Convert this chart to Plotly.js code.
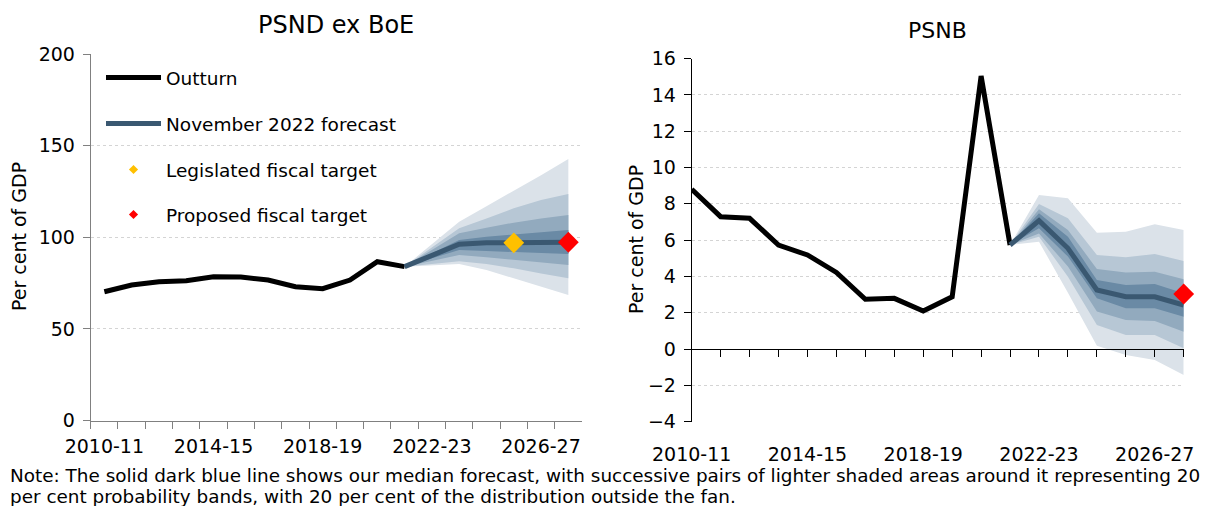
<!DOCTYPE html>
<html>
<head>
<meta charset="utf-8">
<script src="https://cdn.plot.ly/plotly-3.0.1.min.js"></script>
<style>html,body{margin:0;padding:0;background:#fff;}#chart{width:1211px;height:506px;}</style>
</head>
<body>
<div id="chart"></div>
<script>
// ---------- data ----------
const categories = ['2010-11','2011-12','2012-13','2013-14','2014-15','2015-16','2016-17','2017-18','2018-19','2019-20','2020-21','2021-22','2022-23','2023-24','2024-25','2025-26','2026-27','2027-28'];
const tickLabels = ['2010-11','','','','2014-15','','','','2018-19','','','','2022-23','','','','2026-27',''];

// PSND ex BoE (per cent of GDP)
const psndOutturn  = [70.3,74.0,75.8,76.3,78.5,78.3,76.7,73.0,72.0,76.7,86.7,84.0,null,null,null,null,null,null];
const psndMedian   = [null,null,null,null,null,null,null,null,null,null,null,84.0,90.1,96.2,97.0,97.3,97.3,97.3];
const psndLo1 = [null,null,null,null,null,null,null,null,null,null,null,84.0,84.7,85.4,82.2,77.6,73.0,68.5];
const psndHi1 = [null,null,null,null,null,null,null,null,null,null,null,84.0,96.2,108.5,117.0,125.4,133.8,142.7];
const psndLo2 = [null,null,null,null,null,null,null,null,null,null,null,84.0,85.5,87.0,85.4,83.1,80.3,77.6];
const psndHi2 = [null,null,null,null,null,null,null,null,null,null,null,84.0,94.4,104.9,110.3,115.8,120.3,123.6];
const psndLo3 = [null,null,null,null,null,null,null,null,null,null,null,84.0,87.1,90.3,89.1,87.6,86.3,84.9];
const psndHi3 = [null,null,null,null,null,null,null,null,null,null,null,84.0,93.1,102.2,105.2,108.0,110.3,112.2];
const psndLo4 = [null,null,null,null,null,null,null,null,null,null,null,84.0,88.5,93.1,92.5,92.0,91.4,90.9];
const psndHi4 = [null,null,null,null,null,null,null,null,null,null,null,84.0,91.2,98.5,100.3,101.6,102.9,104.0];
const psndLegislatedCat = ['2025-26'];
const psndLegislatedVal = [97.0];
const psndProposedCat = ['2027-28'];
const psndProposedVal = [97.3];

// PSNB (per cent of GDP)
const psnbOutturn = [8.80,7.29,7.20,5.73,5.18,4.22,2.74,2.79,2.09,2.88,15.04,5.73,null,null,null,null,null,null];
const psnbMedian  = [null,null,null,null,null,null,null,null,null,null,null,5.73,7.07,5.55,3.25,2.88,2.88,2.42];
const psnbLo1 = [null,null,null,null,null,null,null,null,null,null,null,5.73,5.91,3.10,0.18,-0.33,-0.61,-1.43];
const psnbHi1 = [null,null,null,null,null,null,null,null,null,null,null,5.73,8.48,8.30,6.41,6.46,6.87,6.56];
const psnbLo2 = [null,null,null,null,null,null,null,null,null,null,null,5.73,6.19,3.98,1.32,0.77,0.77,0.04];
const psnbHi2 = [null,null,null,null,null,null,null,null,null,null,null,5.73,7.99,7.20,5.18,5.05,5.23,4.85];
const psnbLo3 = [null,null,null,null,null,null,null,null,null,null,null,5.73,6.37,4.54,2.06,1.60,1.54,0.95];
const psnbHi3 = [null,null,null,null,null,null,null,null,null,null,null,5.73,7.70,6.56,4.41,4.22,4.26,3.84];
const psnbLo4 = [null,null,null,null,null,null,null,null,null,null,null,5.73,6.65,5.09,2.79,2.24,2.24,1.78];
const psnbHi4 = [null,null,null,null,null,null,null,null,null,null,null,5.73,7.48,6.19,3.80,3.53,3.58,3.07];
const psnbProposedCat = ['2027-28'];
const psnbProposedVal = [3.03];

// ---------- styling ----------
const FONT = '"DejaVu Sans", sans-serif';
const fanColors = ['#dbe2e9','#b7c7d5','#92aabe','#6a8aa5'];
const medianColor = '#3a5871';
const gridColor = '#d4d4d4';

function fanTraces(lows, highs, xa, ya) {
  const t = [];
  for (let i = 0; i < lows.length; i++) {
    t.push({x: categories, y: lows[i], xaxis: xa, yaxis: ya, type: 'scatter', mode: 'lines',
      line: {width: 0, color: 'rgba(0,0,0,0)'}, hoverinfo: 'skip', showlegend: false});
    t.push({x: categories, y: highs[i], xaxis: xa, yaxis: ya, type: 'scatter', mode: 'lines',
      line: {width: 0, color: 'rgba(0,0,0,0)'}, fill: 'tonexty', fillcolor: fanColors[i],
      hoverinfo: 'skip', showlegend: false});
  }
  return t;
}

const data = [].concat(
  fanTraces([psndLo1, psndLo2, psndLo3, psndLo4], [psndHi1, psndHi2, psndHi3, psndHi4], 'x', 'y'),
  fanTraces([psnbLo1, psnbLo2, psnbLo3, psnbLo4], [psnbHi1, psnbHi2, psnbHi3, psnbHi4], 'x2', 'y2'),
  [
    {x: categories, y: psndOutturn, xaxis: 'x', yaxis: 'y', type: 'scatter', mode: 'lines',
      line: {color: '#000', width: 5}, name: 'Outturn', legend: 'legend', showlegend: true},
    {x: categories, y: psndMedian, xaxis: 'x', yaxis: 'y', type: 'scatter', mode: 'lines',
      line: {color: medianColor, width: 5}, name: 'November 2022 forecast', legend: 'legend2', showlegend: true},
    // small diamonds (hidden under the large ones) that carry the legend entries
    {x: psndLegislatedCat, y: psndLegislatedVal, xaxis: 'x', yaxis: 'y', type: 'scatter', mode: 'markers',
      marker: {symbol: 'diamond', color: '#ffc000', size: 7}, name: 'Legislated fiscal target', legend: 'legend3', showlegend: true},
    {x: psndProposedCat, y: psndProposedVal, xaxis: 'x', yaxis: 'y', type: 'scatter', mode: 'markers',
      marker: {symbol: 'diamond', color: '#ff0000', size: 7}, name: 'Proposed fiscal target', legend: 'legend4', showlegend: true},
    {x: psndLegislatedCat, y: psndLegislatedVal, xaxis: 'x', yaxis: 'y', type: 'scatter', mode: 'markers',
      marker: {symbol: 'diamond', color: '#ffc000', size: 16}, showlegend: false, cliponaxis: false},
    {x: psndProposedCat, y: psndProposedVal, xaxis: 'x', yaxis: 'y', type: 'scatter', mode: 'markers',
      marker: {symbol: 'diamond', color: '#ff0000', size: 16}, showlegend: false, cliponaxis: false},

    {x: categories, y: psnbOutturn, xaxis: 'x2', yaxis: 'y2', type: 'scatter', mode: 'lines',
      line: {color: '#000', width: 5}, showlegend: false, cliponaxis: false},
    {x: categories, y: psnbMedian, xaxis: 'x2', yaxis: 'y2', type: 'scatter', mode: 'lines',
      line: {color: medianColor, width: 5}, showlegend: false, cliponaxis: false},
    {x: psnbProposedCat, y: psnbProposedVal, xaxis: 'x2', yaxis: 'y2', type: 'scatter', mode: 'markers',
      marker: {symbol: 'diamond', color: '#ff0000', size: 16}, showlegend: false, cliponaxis: false},
    // carrier for the zero-line axis of the PSNB panel
    {x: categories, y: psnbOutturn, xaxis: 'x3', yaxis: 'y2', type: 'scatter', mode: 'lines',
      line: {color: 'rgba(0,0,0,0)', width: 0}, hoverinfo: 'skip', showlegend: false}
  ]
);

const legendBase = {xanchor: 'left', yanchor: 'middle', bgcolor: 'rgba(0,0,0,0)', borderwidth: 0,
  font: {family: FONT, size: 18.5, color: '#000'}, itemwidth: 55, tracegroupgap: 0};
const legX = 101 / 1211;

const layout = {
  width: 1211, height: 506,
  margin: {l: 0, r: 0, t: 0, b: 0},
  paper_bgcolor: '#fff', plot_bgcolor: 'rgba(0,0,0,0)',
  font: {family: FONT, size: 19, color: '#000'},
  showlegend: true,
  legend:  Object.assign({}, legendBase, {x: legX, y: 1 - 78 / 506}),
  legend2: Object.assign({}, legendBase, {x: legX, y: 1 - 124 / 506}),
  legend3: Object.assign({}, legendBase, {x: legX, y: 1 - 170 / 506}),
  legend4: Object.assign({}, legendBase, {x: legX, y: 1 - 215 / 506}),
  xaxis: {domain: [90.7 / 1211, 582 / 1211], anchor: 'y', type: 'category', range: [-0.5, 17.5],
    tickmode: 'array', tickvals: categories, ticktext: tickLabels, tickson: 'boundaries', tickangle: 0,
    ticks: 'outside', ticklen: 7, tickcolor: '#808080', tickwidth: 1,
    showline: true, linecolor: '#808080', linewidth: 1, showgrid: false, zeroline: false,
    tickfont: {family: FONT, size: 19, color: '#000'}, ticklabelstandoff: 9, fixedrange: true},
  yaxis: {domain: [1 - 420.6 / 506, 1 - 54 / 506], anchor: 'x', range: [0, 200],
    tickmode: 'linear', tick0: 0, dtick: 50, ticks: 'outside', ticklen: 7, tickcolor: '#808080',
    showline: true, linecolor: '#808080', linewidth: 1, showgrid: true, gridcolor: gridColor,
    griddash: 'dot', gridwidth: 1, zeroline: false,
    tickfont: {family: FONT, size: 19, color: '#000'}, ticklabelstandoff: 4, fixedrange: true},
  xaxis2: {domain: [691.7 / 1211, 1183.7 / 1211], anchor: 'y2', type: 'category', range: [0, 17],
    tickmode: 'array', tickvals: categories, ticktext: tickLabels, tickangle: 0,
    ticks: 'outside', ticklen: 7, tickcolor: 'rgba(0,0,0,0)', showline: false, showgrid: false,
    zeroline: false, tickfont: {family: FONT, size: 19, color: '#000'}, ticklabelstandoff: 9, fixedrange: true},
  xaxis3: {overlaying: 'x2', anchor: 'free', position: 1 - 349 / 506, type: 'category', range: [0, 17],
    tickmode: 'array', tickvals: categories, showticklabels: false,
    ticks: 'outside', ticklen: 7, tickcolor: '#000', tickwidth: 1,
    showline: true, linecolor: '#000', linewidth: 1, showgrid: false, zeroline: false, fixedrange: true},
  yaxis2: {domain: [1 - 421.6 / 506, 1 - 58.6 / 506], anchor: 'x2', range: [-4, 16],
    tickmode: 'linear', tick0: 0, dtick: 2, ticks: 'outside', ticklen: 7, tickcolor: '#000',
    showline: true, linecolor: '#000', linewidth: 1, showgrid: true, gridcolor: gridColor,
    griddash: 'dot', gridwidth: 1, zeroline: false,
    tickfont: {family: FONT, size: 19, color: '#000'}, ticklabelstandoff: 4, fixedrange: true},
  annotations: [
    {text: 'PSND ex BoE', xref: 'paper', yref: 'paper', x: 336 / 1211, y: 1 - 25 / 506,
      xanchor: 'center', yanchor: 'middle', showarrow: false, font: {family: FONT, size: 24, color: '#000'}},
    {text: 'PSNB', xref: 'paper', yref: 'paper', x: 937.7 / 1211, y: 1 - 31 / 506,
      xanchor: 'center', yanchor: 'middle', showarrow: false, font: {family: FONT, size: 22, color: '#000'}},
    {text: 'Per cent of GDP', xref: 'paper', yref: 'paper', x: 19 / 1211, y: 1 - 237 / 506,
      xanchor: 'center', yanchor: 'middle', textangle: -90, showarrow: false, font: {family: FONT, size: 19, color: '#000'}},
    {text: 'Per cent of GDP', xref: 'paper', yref: 'paper', x: 636 / 1211, y: 1 - 240 / 506,
      xanchor: 'center', yanchor: 'middle', textangle: -90, showarrow: false, font: {family: FONT, size: 19, color: '#000'}},
    {text: 'Note: The solid dark blue line shows our median forecast, with successive pairs of lighter shaded areas around it representing 20',
      xref: 'paper', yref: 'paper', x: 8 / 1211, y: 1 - 475 / 506, xanchor: 'left', yanchor: 'middle',
      showarrow: false, font: {family: FONT, size: 18.4, color: '#000'}},
    {text: 'per cent probability bands, with 20 per cent of the distribution outside the fan.',
      xref: 'paper', yref: 'paper', x: 8 / 1211, y: 1 - 496 / 506, xanchor: 'left', yanchor: 'middle',
      showarrow: false, font: {family: FONT, size: 18.4, color: '#000'}}
  ]
};

Plotly.newPlot('chart', data, layout, {staticPlot: true, displayModeBar: false});
</script>
</body>
</html>
